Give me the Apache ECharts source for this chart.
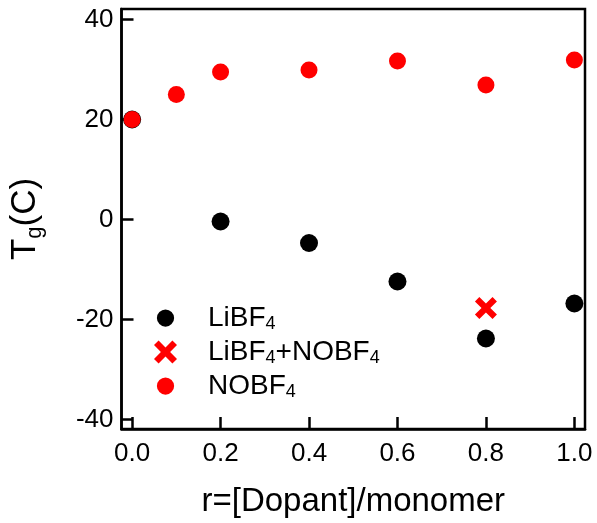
<!DOCTYPE html>
<html>
<head>
<meta charset="utf-8">
<script src="https://cdn.jsdelivr.net/npm/echarts@6/dist/echarts.min.js"></script>
<style>html,body{margin:0;padding:0;background:#fff;}#c{width:597px;height:523px;}</style>
</head>
<body>
<div id="c"></div>
<script>
const xTicks = [0, 0.2, 0.4, 0.6, 0.8, 1.0];
const yTicks = [-40, -20, 0, 20, 40];

const libf4X = [0, 0.2, 0.4, 0.6, 0.8, 1.0];
const libf4Y = [20, -0.4, -4.7, -12.4, -23.8, -16.8];

const mixX = [0.8];
const mixY = [-17.7];

const nobf4X = [0, 0.1, 0.2, 0.4, 0.6, 0.8, 1.0];
const nobf4Y = [20, 25, 29.5, 29.9, 31.7, 26.9, 31.9];

const zip = (a, b) => a.map((v, i) => [v, b[i]]);
const XPATH = 'path://M2,0 L5,3 L8,0 L10,2 L7,5 L10,8 L8,10 L5,7 L2,10 L0,8 L3,5 L0,2 Z';
const CIRCLE_ICON = 'path://M0,0 M24,24 M21,12 A9,9 0 1 1 3,12 A9,9 0 1 1 21,12 Z';
const FONT = '"Liberation Sans", Arial, sans-serif';

const chart = echarts.init(document.getElementById('c'));
chart.setOption({
  animation: false,
  backgroundColor: '#fff',
  textStyle: { fontFamily: FONT, color: '#000' },
  grid: { left: 120, right: 12, top: 9, bottom: 91, show: true, borderColor: '#000', borderWidth: 2.5, backgroundColor: 'transparent' },
  xAxis: {
    type: 'value', min: -0.024, max: 1.024,
    name: 'r=[Dopant]/monomer', nameLocation: 'middle', nameGap: 56,
    nameTextStyle: { fontSize: 33, color: '#000', fontFamily: FONT },
    axisLine: { show: true, onZero: false, lineStyle: { color: '#000', width: 2.5 } },
    axisTick: { show: true, inside: true, length: 12, lineStyle: { color: '#000', width: 2.5 }, customValues: xTicks },
    axisLabel: { fontSize: 26, color: '#000', margin: 12, fontFamily: FONT, customValues: xTicks, formatter: v => v.toFixed(1) },
    splitLine: { show: false }
  },
  yAxis: {
    type: 'value', min: -41.9, max: 42.1,
    name: 'T{s|g}(C)', nameLocation: 'middle', nameGap: 76, nameRotate: 90,
    nameTextStyle: { fontSize: 35, color: '#000', fontFamily: FONT,
      rich: { s: { fontSize: 22, verticalAlign: 'bottom', padding: [18, 0, 0, 0], fontFamily: FONT, color: '#000' } } },
    axisLine: { show: true, onZero: false, lineStyle: { color: '#000', width: 2.5 } },
    axisTick: { show: true, inside: true, length: 12, lineStyle: { color: '#000', width: 2.5 }, customValues: yTicks },
    axisLabel: { fontSize: 26, color: '#000', margin: 8, fontFamily: FONT, customValues: yTicks },
    splitLine: { show: false }
  },
  legend: {
    orient: 'vertical', left: 149, top: 299, itemGap: 5,
    itemWidth: 25, itemHeight: 23,
    textStyle: { fontSize: 28, color: '#000', fontFamily: FONT, padding: [0, 0, 0, 25],
      rich: { s: { fontSize: 18, verticalAlign: 'bottom', padding: [12, 0, 0, 0], fontFamily: FONT, color: '#000' } } },
    formatter: function (n) {
      return n.replace(/4/g, '{s|4}');
    },
    data: [
      { name: 'LiBF4', icon: CIRCLE_ICON },
      { name: 'LiBF4+NOBF4', icon: XPATH },
      { name: 'NOBF4', icon: CIRCLE_ICON }
    ]
  },
  series: [
    { name: 'LiBF4', type: 'scatter', symbol: 'circle', symbolSize: 18, itemStyle: { color: '#000', opacity: 1 }, data: zip(libf4X, libf4Y), z: 2 },
    { name: 'LiBF4+NOBF4', type: 'scatter', symbol: XPATH, symbolSize: 22, symbolKeepAspect: true, itemStyle: { color: '#ff0000', opacity: 1 }, data: zip(mixX, mixY), z: 3 },
    { name: 'NOBF4', type: 'scatter', symbol: 'circle', symbolSize: 17, itemStyle: { color: '#ff0000', opacity: 1 }, data: zip(nobf4X, nobf4Y), z: 4 }
  ]
});
</script>
</body>
</html>
